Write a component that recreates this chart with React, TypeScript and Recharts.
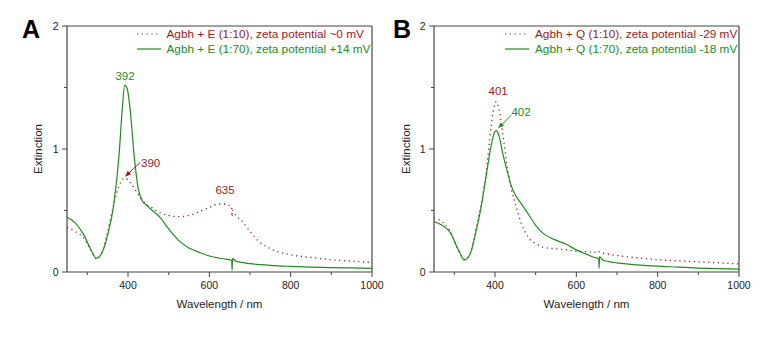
import React from 'react';
import {
  LineChart,
  Line,
  XAxis,
  YAxis,
  ReferenceLine,
  ReferenceDot,
  Legend,
} from 'recharts';

const RED = '#961c1c';
const GREEN = '#238b23';
const AXIS = '#444';
const FONT = '"Liberation Sans", Arial, sans-serif';
const DOTS = '1.2 3.6';

const xTicks = [300, 400, 500, 600, 700, 800, 900, 1000];
const yTicks = [0, 0.5, 1, 1.5, 2];

// panel A: Agbh + E
const wavelengthsA = [
  250, 270, 290, 310, 322, 335, 350, 365, 378, 386, 392, 398, 405, 415, 425, 435, 445,
  460, 480, 500, 525, 550, 575, 600, 625, 640, 650, 655, 656, 657, 665, 680, 700, 725,
  750, 800, 850, 900, 950, 1000,
];
const extA110 = [
  0.36, 0.33, 0.28, 0.17, 0.105, 0.15, 0.33, 0.55, 0.7, 0.75, 0.765, 0.755, 0.73, 0.685,
  0.63, 0.585, 0.55, 0.52, 0.48, 0.46, 0.45, 0.46, 0.49, 0.525, 0.553, 0.553, 0.54, 0.53,
  0.45, 0.5, 0.46, 0.415, 0.33, 0.24, 0.19, 0.14, 0.118, 0.1, 0.088, 0.077,
];
const extA170 = [
  0.445, 0.4, 0.31, 0.175, 0.112, 0.15, 0.3, 0.55, 0.95, 1.33, 1.52, 1.49, 1.33, 0.95,
  0.68, 0.58, 0.545, 0.5, 0.44, 0.35, 0.255, 0.195, 0.16, 0.13, 0.112, 0.104, 0.099, 0.096,
  0.016, 0.108, 0.088, 0.078, 0.068, 0.06, 0.054, 0.046, 0.04, 0.036, 0.033, 0.03,
];

// panel B: Agbh + Q
const wavelengthsB = [
  250, 270, 290, 310, 325, 338, 352, 366, 378, 390, 397, 403, 410, 419, 430, 440, 452,
  464, 480, 500, 520, 545, 575, 600, 625, 645, 655, 656, 657, 665, 680, 700, 750, 800,
  850, 900, 950, 1000,
];
const extB110 = [
  0.44, 0.41, 0.33, 0.18, 0.1, 0.14, 0.33, 0.55, 0.8, 1.17, 1.33, 1.385, 1.32, 1.13, 0.85,
  0.68, 0.53, 0.4, 0.29, 0.23, 0.2, 0.19, 0.18, 0.17, 0.165, 0.16, 0.158, 0.165, 0.16,
  0.153, 0.145, 0.134, 0.115, 0.1, 0.09, 0.083, 0.075, 0.065,
];
const extB170 = [
  0.41, 0.38, 0.32, 0.18, 0.098, 0.14, 0.31, 0.53, 0.775, 1.02, 1.12, 1.15, 1.105, 0.965,
  0.82, 0.7, 0.615, 0.558, 0.48, 0.38, 0.31, 0.265, 0.225, 0.18, 0.145, 0.118, 0.108,
  0.03, 0.125, 0.098, 0.085, 0.074, 0.058, 0.047, 0.04, 0.032, 0.027, 0.024,
];

const legendA = ['Agbh + E (1:10), zeta potential ~0 mV', 'Agbh + E (1:70), zeta potential +14 mV'];
const legendB = ['Agbh + Q (1:10), zeta potential -29 mV', 'Agbh + Q (1:70), zeta potential -18 mV'];

const peaksA = [
  { x: 392.6, y: 1.593, text: '392', color: GREEN, pos: 'center' },
  { x: 432, y: 0.884, text: '390', color: RED, pos: 'right' },
  { x: 638.5, y: 0.667, text: '635', color: RED, pos: 'center' },
];
const arrowsA = [{ x1: 429.5, y1: 0.889, x2: 392.6, y2: 0.775, color: RED }];

const peaksB = [
  { x: 407.6, y: 1.474, text: '401', color: RED, pos: 'center' },
  { x: 440.4, y: 1.298, text: '402', color: GREEN, pos: 'right' },
];
const arrowsB = [{ x1: 440.4, y1: 1.276, x2: 407.6, y2: 1.168, color: GREEN }];

const XTick = (props: any) => {
  const { x, y, payload } = props;
  const major = payload.value % 200 === 0;
  return (
    <g>
      <line x1={x} x2={x} y1={y} y2={y + (major ? 5 : 3)} stroke={AXIS} />
      {major && (
        <text x={x} y={y + 17} textAnchor="middle" fontSize={10.5} fill="#222" fontFamily={FONT}>
          {payload.value}
        </text>
      )}
    </g>
  );
};

const YTick = (props: any) => {
  const { x, y, payload } = props;
  const major = Number.isInteger(payload.value);
  return (
    <g>
      <line x1={x - (major ? 5 : 3)} x2={x} y1={y} y2={y} stroke={AXIS} />
      {major && (
        <text x={x - 8.5} y={y + 3.7} textAnchor="end" fontSize={10.5} fill="#222" fontFamily={FONT}>
          {payload.value}
        </text>
      )}
    </g>
  );
};

const arrowShape = (color: string) => (p: any) => {
  const { x1, y1, x2, y2 } = p;
  const ang = Math.atan2(y2 - y1, x2 - x1);
  const len = 6;
  const w = 2.4;
  const bx = x2 - len * Math.cos(ang);
  const by = y2 - len * Math.sin(ang);
  const pts = `${x2},${y2} ${bx - w * Math.sin(ang)},${by + w * Math.cos(ang)} ${bx + w * Math.sin(ang)},${by - w * Math.cos(ang)}`;
  return (
    <g>
      <line x1={x1} y1={y1} x2={bx} y2={by} stroke={color} strokeWidth={1} />
      <polygon points={pts} fill={color} />
    </g>
  );
};

const LegendBox = ({ names }: { names: string[] }) => (
  <div style={{ fontFamily: FONT, fontSize: 11.8, lineHeight: '15px' }}>
    {names.map((n, i) => (
      <div
        key={n}
        style={{
          display: 'flex',
          alignItems: 'center',
          whiteSpace: 'nowrap',
          color: i === 0 ? RED : GREEN,
        }}
      >
        <svg width={24} height={4} style={{ marginRight: 6 }}>
          <line
            x1={0}
            x2={24}
            y1={2}
            y2={2}
            stroke={i === 0 ? RED : GREEN}
            strokeWidth={1.2}
            strokeDasharray={i === 0 ? DOTS : undefined}
          />
        </svg>
        <span>{n}</span>
      </div>
    ))}
  </div>
);

interface PanelProps {
  letter: string;
  left: number;
  width: number;
  margin: { top: number; right: number; left: number; bottom: number };
  yLabelOffset: number;
  legendLeft: number;
  wavelengths: number[];
  dotted: number[];
  solid: number[];
  names: string[];
  peaks: typeof peaksA;
  arrows: typeof arrowsA;
  letterLeft: number;
}

function Panel(p: PanelProps) {
  const data = p.wavelengths.map((wl, i) => ({ wl, dotted: p.dotted[i], solid: p.solid[i] }));
  return (
    <div style={{ position: 'absolute', left: p.left, top: 0, width: p.width, height: 339 }}>
      <LineChart width={p.width} height={339} data={data} margin={p.margin}>
        <XAxis
          dataKey="wl"
          type="number"
          domain={[250, 1000]}
          ticks={xTicks}
          height={40}
          tick={<XTick />}
          tickSize={0}
          tickMargin={0}
          tickLine={false}
          axisLine={{ stroke: AXIS, strokeWidth: 1.2 }}
          interval={0}
          label={{
            value: 'Wavelength / nm',
            position: 'insideBottom',
            offset: 4,
            fontSize: 11.5,
            fill: '#222',
            fontFamily: FONT,
          }}
        />
        <YAxis
          type="number"
          domain={[0, 2]}
          ticks={yTicks}
          width={30}
          tick={<YTick />}
          tickSize={0}
          tickMargin={0}
          tickLine={false}
          axisLine={{ stroke: AXIS, strokeWidth: 1.2 }}
          interval={0}
          label={{
            value: 'Extinction',
            angle: -90,
            position: 'insideLeft',
            offset: p.yLabelOffset,
            fontSize: 11.5,
            fill: '#222',
            fontFamily: FONT,
            style: { textAnchor: 'middle' },
          }}
        />
        <ReferenceLine y={2} stroke={AXIS} strokeWidth={1.2} />
        <ReferenceLine x={1000} stroke={AXIS} strokeWidth={1.2} />
        <Legend
          layout="vertical"
          align="center"
          verticalAlign="middle"
          wrapperStyle={{ top: 26.5, left: p.legendLeft, width: 'auto' }}
          content={() => <LegendBox names={p.names} />}
        />
        <Line
          dataKey="dotted"
          name={p.names[0]}
          type="monotone"
          stroke={RED}
          strokeWidth={1.3}
          strokeDasharray={DOTS}
          dot={false}
          activeDot={false}
          isAnimationActive={false}
        />
        <Line
          dataKey="solid"
          name={p.names[1]}
          type="monotone"
          stroke={GREEN}
          strokeWidth={1.2}
          dot={false}
          activeDot={false}
          isAnimationActive={false}
        />
        {p.arrows.map((a, i) => (
          <ReferenceLine
            key={'ar' + i}
            segment={[
              { x: a.x1, y: a.y1 },
              { x: a.x2, y: a.y2 },
            ]}
            stroke={a.color}
            shape={arrowShape(a.color)}
          />
        ))}
        {p.peaks.map((pk) => (
          <ReferenceDot
            key={pk.text}
            x={pk.x}
            y={pk.y}
            r={0}
            fill="none"
            stroke="none"
            label={{
              value: pk.text,
              position: pk.pos as any,
              offset: 0,
              fill: pk.color,
              fontSize: 11.5,
              fontFamily: FONT,
            }}
          />
        ))}
      </LineChart>
      <div
        style={{
          position: 'absolute',
          left: p.letterLeft,
          top: 16.7,
          fontFamily: FONT,
          fontWeight: 'bold',
          fontSize: 25,
          lineHeight: '25px',
          color: '#000',
        }}
      >
        {p.letter}
      </div>
    </div>
  );
}

export default function App() {
  return (
    <div style={{ position: 'absolute', left: 0, top: 0, width: 782, height: 339, background: '#fff' }}>
      <Panel
        letter="A"
        left={0}
        width={390}
        margin={{ top: 26, right: 18, left: 37, bottom: 27 }}
        yLabelOffset={1}
        legendLeft={136.5}
        wavelengths={wavelengthsA}
        dotted={extA110}
        solid={extA170}
        names={legendA}
        peaks={peaksA}
        arrows={arrowsA}
        letterLeft={22}
      />
      <Panel
        letter="B"
        left={390}
        width={392}
        margin={{ top: 26, right: 43, left: 14, bottom: 27 }}
        yLabelOffset={2}
        legendLeft={115}
        wavelengths={wavelengthsB}
        dotted={extB110}
        solid={extB170}
        names={legendB}
        peaks={peaksB}
        arrows={arrowsB}
        letterLeft={3}
      />
    </div>
  );
}
